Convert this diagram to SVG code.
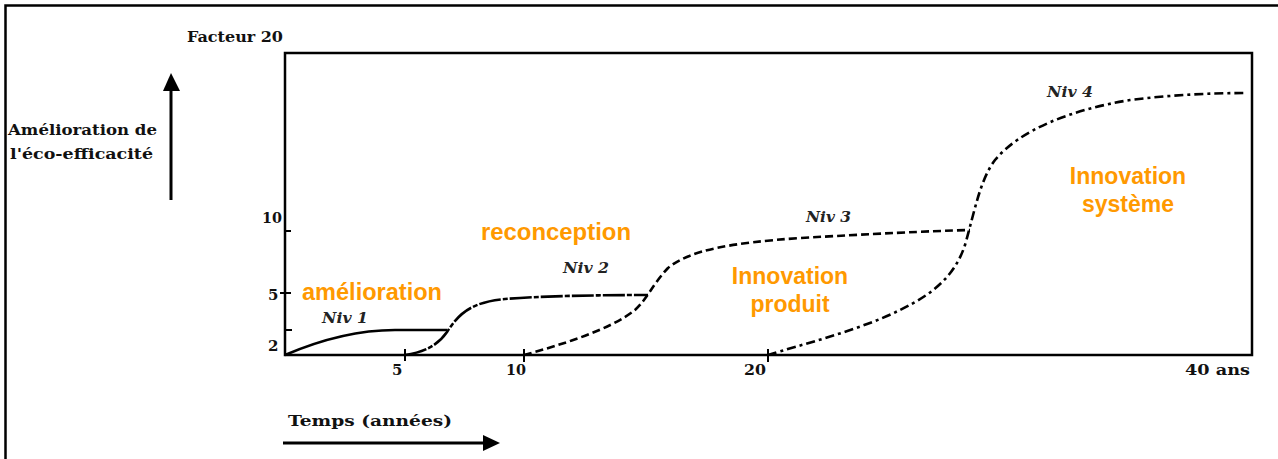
<svg xmlns="http://www.w3.org/2000/svg" width="1278" height="459" viewBox="0 0 1278 459">
<style>
.lbl{font-family:"DejaVu Serif","Liberation Serif",serif;font-weight:bold;font-size:15px;fill:#111}
.tick{font-family:"DejaVu Serif","Liberation Serif",serif;font-weight:bold;font-size:15px;fill:#111}
.niv{font-family:"DejaVu Serif","Liberation Serif",serif;font-weight:bold;font-style:italic;font-size:14px;fill:#222}
.or{font-family:"Liberation Sans",Arial,sans-serif;font-weight:bold;font-size:23px;fill:#FF9900}
.ax{stroke:#000;stroke-width:2.5;fill:none}
.cv{stroke:#000;stroke-width:2.6;fill:none;stroke-linecap:butt}
</style>
<defs>
<marker id="ah" markerWidth="10" markerHeight="10" refX="0" refY="5" orient="auto" markerUnits="userSpaceOnUse"><path d="M0,0 L10,5 L0,10 Z" fill="#000"/></marker>
</defs>
<rect width="1278" height="459" fill="#fff"/>
<g id="frame"><path d="M5.5,459 V5.5 H1278" class="ax" stroke-width="2"/></g>
<g id="plot-box"><rect x="285" y="53" width="967" height="302" class="ax"/></g>
<g id="axis-arrows">
<line x1="171" y1="200" x2="171" y2="90" stroke="#000" stroke-width="3"/>
<path d="M163,91 L171,73 L180,91 Z" fill="#000"/>
<line x1="283" y1="443" x2="484" y2="443" stroke="#000" stroke-width="3"/>
<path d="M483,435 L500,443 L483,451 Z" fill="#000"/>
</g>
<g id="ticks" stroke="#000" stroke-width="2">
<line x1="285" y1="231" x2="291" y2="231"/>
<line x1="280" y1="293" x2="291" y2="293"/>
<line x1="285" y1="330" x2="292" y2="330"/>
<line x1="405" y1="349" x2="405" y2="361"/>
<line x1="524" y1="349" x2="524" y2="362"/>
<line x1="768" y1="349" x2="768" y2="362"/>
</g>
<g id="labels">
<text class="lbl" x="187" y="42" textLength="96" lengthAdjust="spacingAndGlyphs">Facteur 20</text>
<text class="lbl" x="8" y="135" textLength="149" lengthAdjust="spacingAndGlyphs">Amélioration de</text>
<text class="lbl" x="10" y="159" textLength="143" lengthAdjust="spacingAndGlyphs">l'éco-efficacité</text>
<text class="lbl" x="288" y="426" textLength="164" lengthAdjust="spacingAndGlyphs">Temps (années)</text>
<text class="tick" x="262" y="223" textLength="20" lengthAdjust="spacingAndGlyphs">10</text>
<text class="tick" x="268" y="300">5</text>
<text class="tick" x="268" y="351">2</text>
<text class="tick" x="392" y="375">5</text>
<text class="tick" x="506" y="375" textLength="20" lengthAdjust="spacingAndGlyphs">10</text>
<text class="tick" x="744" y="375" textLength="22" lengthAdjust="spacingAndGlyphs">20</text>
<text class="tick" x="1185" y="375" textLength="65" lengthAdjust="spacingAndGlyphs">40 ans</text>
</g>
<g id="connectors">
<path id="niv1" class="cv" d="M285,355 C320,340 355,330 395,330 L447,330"/>
<path id="niv2" class="cv" stroke-dasharray="22,2,5,2" d="M405,355 C425,352 438,345 447,332 C458,315 470,302 505,299 C540,296 600,295 648,295"/>
<path id="niv3" class="cv" stroke-dasharray="8,4" d="M524,355 C560,345 610,330 635,310 C648,298 652,285 668,268 C690,250 730,243 800,238 C870,234 930,231 970,230"/>
<path id="niv4" class="cv" stroke-dasharray="9,4,3,4" d="M768,355 C800,345 860,330 900,310 C935,293 955,275 965,245 C975,210 980,180 995,160 C1020,130 1070,110 1130,100 C1170,95 1210,93 1247,93"/>
</g>
<g id="niv-labels">
<text class="niv" x="322" y="323" textLength="46" lengthAdjust="spacingAndGlyphs">Niv 1</text>
<text class="niv" x="563" y="273" textLength="46" lengthAdjust="spacingAndGlyphs">Niv 2</text>
<text class="niv" x="806" y="222" textLength="45" lengthAdjust="spacingAndGlyphs">Niv 3</text>
<text class="niv" x="1047" y="97" textLength="46" lengthAdjust="spacingAndGlyphs">Niv 4</text>
</g>
<g id="amelioration"><text class="or" x="302" y="300" textLength="140" lengthAdjust="spacingAndGlyphs">amélioration</text></g>
<g id="reconception"><text class="or" x="481" y="240" textLength="150" lengthAdjust="spacingAndGlyphs">reconception</text></g>
<g id="innovation-produit"><text class="or" text-anchor="middle"><tspan x="790" y="284">Innovation</tspan><tspan x="790" y="312">produit</tspan></text></g>
<g id="innovation-systeme"><text class="or" text-anchor="middle"><tspan x="1128" y="184">Innovation</tspan><tspan x="1128" y="212">système</tspan></text></g>
</svg>
